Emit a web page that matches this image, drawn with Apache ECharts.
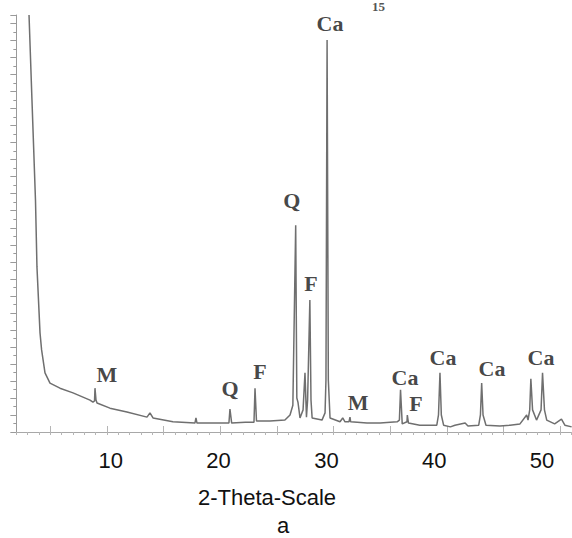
<!DOCTYPE html>
<html>
<head>
<meta charset="utf-8">
<script src="https://cdn.jsdelivr.net/npm/echarts@6/dist/echarts.min.js"></script>
<style>
  html, body { margin: 0; padding: 0; background: #fff; }
  #chart { width: 572px; height: 538px; }
</style>
</head>
<body>
<div id="chart"></div>
<script>
// XRD pattern (2-theta in degrees, intensity in arbitrary counts)
const twoTheta = [
  3.12, 3.38, 3.69, 3.82, 4.09, 4.23, 4.53, 4.97, 5.85, 7.0, 8.5, 8.76,
  8.9, 8.94, 9.03, 9.12, 10.26, 11.76, 13.53, 13.79, 14.06, 15.82,
  17.76, 17.85, 17.94, 18.2, 19.5, 20.76, 20.85, 21.0, 22.2,
  22.97, 23.06, 23.19, 24.38, 25.7, 26.15, 26.4, 26.65, 26.75, 26.85,
  27.03, 27.3, 27.47, 27.6, 27.7, 27.9, 28.0, 28.1, 28.97, 29.24,
  29.32, 29.42, 29.53, 29.68, 30.56, 30.8, 31.0, 31.35, 31.44, 31.5,
  32.94, 34.1, 35.6, 35.8, 35.9, 36.05, 36.47, 36.5, 36.6, 37.6,
  39.1, 39.25, 39.38, 39.5, 39.7, 40.3, 40.7, 41.6, 41.85, 42.8,
  42.95, 43.06, 43.18, 43.44, 44.67, 45.56, 46.44, 47.03, 47.15,
  47.3, 47.4, 47.55, 47.9, 48.3, 48.43, 48.6, 48.8, 49.5, 50.1, 50.4, 51.0
];
const intensity = [
  980, 780, 545, 388, 233, 193, 139, 115, 103, 92, 75, 70,
  73, 103, 75, 68, 56, 47, 35, 45, 33, 24,
  21, 33, 21, 21, 21, 21, 54, 21, 23,
  23, 103, 26, 26, 28, 40, 63, 486, 80, 70,
  33, 52, 139, 35, 75, 310, 75, 33, 28, 45,
  122, 921, 122, 33, 24, 33, 24, 24, 35, 24,
  21, 21, 24, 28, 99, 19, 24, 40, 21, 16,
  16, 40, 139, 40, 16, 12, 16, 21, 14, 16,
  40, 115, 40, 16, 14, 16, 19, 40, 28,
  52, 125, 52, 28, 52, 139, 52, 28, 19, 30, 16, 12
];

// phase labels above the peaks
const peakNames = ["M", "Q", "F", "Q", "F", "Ca", "M", "Ca", "F", "Ca", "Ca", "Ca"];
const peakTheta = [10.0, 20.85, 23.5, 26.3, 28.0, 29.68, 32.15, 36.3, 37.26, 39.65, 43.97, 48.3];
const peakHeight = [134, 103, 143, 545, 350, 961, 70, 127, 68, 176, 150, 176];

const xTickLabels = [10, 20, 30, 40, 50];

const serif = "'Liberation Serif', 'DejaVu Serif', serif";
const sans = "'Liberation Sans', Arial, sans-serif";

const chart = echarts.init(document.getElementById("chart"), null, { renderer: "svg" });

chart.setOption({
  animation: false,
  backgroundColor: "#fff",
  title: [
    {
      text: "2-Theta-Scale",
      left: 262, top: 481, textAlign: "center",
      textStyle: { fontFamily: sans, fontSize: 22, fontWeight: "normal", color: "#111" }
    },
    {
      text: "a",
      left: 278, top: 509, textAlign: "center",
      textStyle: { fontFamily: sans, fontSize: 22, fontWeight: "normal", color: "#111" }
    }
  ],
  graphic: [
    {
      type: "text", left: 372, top: 0,
      style: { text: "15", font: "bold 13px " + serif, fill: "#555" }
    }
  ],
  grid: [
    { left: 16.33, top: 15, width: 555.33, height: 417 },
    { left: 2, top: 15, width: 540, height: 417 }
  ],
  xAxis: [
    {
      gridIndex: 0, type: "value", min: 2, max: 51, interval: 1,
      axisLine: { lineStyle: { color: "#a8a8a8", width: 1 } },
      axisTick: { length: 3, lineStyle: { color: "#b5b5b5" } },
      axisLabel: { show: false },
      splitLine: { show: false }
    },
    {
      gridIndex: 0, type: "value", min: 2, max: 51,
      axisLine: { show: false },
      axisTick: { length: 6, customValues: [5, 10, 15, 20, 25, 30, 35, 40, 45, 50], lineStyle: { color: "#b5b5b5" } },
      axisLabel: { show: false },
      splitLine: { show: false }
    },
    {
      // tick labels of the picture sit on their own spacing
      gridIndex: 1, type: "value", min: 0, max: 50, interval: 10,
      axisLine: { show: false },
      axisTick: { show: false },
      splitLine: { show: false },
      axisLabel: {
        margin: 17,
        fontFamily: sans, fontSize: 22, color: "#111",
        formatter: (v) => (xTickLabels.indexOf(v) >= 0 ? String(v) : "")
      }
    }
  ],
  yAxis: [
    {
      gridIndex: 0, type: "value", min: 0, max: 980, interval: 20, position: "left",
      axisLine: { show: true, lineStyle: { color: "#9a9a9a" } },
      axisTick: { show: true, length: 3, lineStyle: { color: "#9a9a9a" } },
      axisLabel: { show: false },
      splitLine: { show: false }
    },
    {
      gridIndex: 0, type: "value", min: 0, max: 980, interval: 40, position: "left", offset: 0,
      axisLine: { show: false },
      axisTick: { show: true, length: 6, lineStyle: { color: "#9a9a9a" } },
      axisLabel: { show: false },
      splitLine: { show: false }
    },
    { gridIndex: 1, type: "value", show: false }
  ],
  series: [
    {
      type: "line",
      xAxisIndex: 0, yAxisIndex: 0,
      data: twoTheta.map((t, i) => [t, intensity[i]]),
      showSymbol: false,
      clip: true,
      lineStyle: { color: "#6f6f6f", width: 1.5 }
    },
    {
      type: "scatter",
      xAxisIndex: 0, yAxisIndex: 0,
      symbolSize: 0,
      data: peakNames.map((n, i) => ({ name: n, value: [peakTheta[i], peakHeight[i]] })),
      label: {
        show: true, position: "inside", formatter: "{b}",
        fontFamily: serif, fontWeight: "bold", fontSize: 22, color: "#151515"
      },
      silent: true
    }
  ]
});
</script>
</body>
</html>
